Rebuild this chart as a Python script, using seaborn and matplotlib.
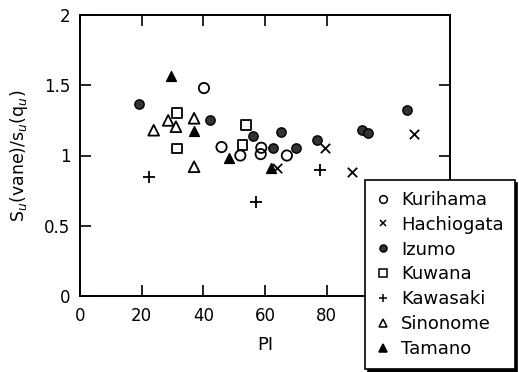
import matplotlib
matplotlib.use('Agg')
import matplotlib.pyplot as plt
from matplotlib.lines import Line2D
import seaborn as sns
import pandas as pd

# ---- data ----
kurihama_pi = [40.2, 45.9, 52.0, 58.8, 58.6, 67.1]
kurihama_r = [1.48, 1.06, 1.00, 1.055, 1.01, 1.00]
hachiogata_pi = [63.9, 79.4, 88.1, 108.4]
hachiogata_r = [0.91, 1.05, 0.885, 1.155]
izumo_pi = [19.1, 42.1, 56.1, 62.5, 65.2, 70.0, 77.0, 91.3, 93.5, 106.0]
izumo_r = [1.37, 1.25, 1.14, 1.055, 1.17, 1.055, 1.11, 1.185, 1.16, 1.325]
kuwana_pi = [31.5, 31.5, 53.8, 52.7]
kuwana_r = [1.305, 1.05, 1.22, 1.075]
kawasaki_pi = [22.3, 57.1, 77.7]
kawasaki_r = [0.845, 0.67, 0.895]
sinonome_pi = [23.9, 28.6, 31.1, 37.0, 37.0]
sinonome_r = [1.18, 1.25, 1.205, 1.265, 0.92]
tamano_pi = [29.4, 37.0, 48.4, 62.0]
tamano_r = [1.565, 1.175, 0.985, 0.91]

sites = ["Kurihama", "Hachiogata", "Izumo", "Kuwana", "Kawasaki", "Sinonome", "Tamano"]
x_ticks = [0, 20, 40, 60, 80]
y_ticks = [0, 0.5, 1, 1.5, 2]
y_tick_labels = ["0", "0.5", "1", "1.5", "2"]

series = {
    "Kurihama": (kurihama_pi, kurihama_r),
    "Hachiogata": (hachiogata_pi, hachiogata_r),
    "Izumo": (izumo_pi, izumo_r),
    "Kuwana": (kuwana_pi, kuwana_r),
    "Kawasaki": (kawasaki_pi, kawasaki_r),
    "Sinonome": (sinonome_pi, sinonome_r),
    "Tamano": (tamano_pi, tamano_r),
}

rows = []
for site in sites:
    pis, rs = series[site]
    for p, r in zip(pis, rs):
        rows.append({"site": site, "PI": p, "ratio": r})
df = pd.DataFrame(rows)

# ---- styles ----
styles = {
    "Kurihama": dict(marker="o", fc="none", ec="black", s=55, lw=1.3),
    "Hachiogata": dict(marker="x", fc="black", ec="black", s=45, lw=1.3),
    "Izumo": dict(marker="o", fc="#333333", ec="black", s=45, lw=1.0),
    "Kuwana": dict(marker="s", fc="none", ec="black", s=50, lw=1.3),
    "Kawasaki": dict(marker="+", fc="black", ec="black", s=70, lw=1.3),
    "Sinonome": dict(marker="^", fc="none", ec="black", s=60, lw=1.3),
    "Tamano": dict(marker="^", fc="black", ec="black", s=50, lw=1.0),
}

sns.set_theme(style="ticks")
plt.rcParams["font.family"] = ["DejaVu Sans"]
plt.rcParams["text.color"] = "black"
plt.rcParams["axes.labelcolor"] = "black"
plt.rcParams["xtick.color"] = "black"
plt.rcParams["ytick.color"] = "black"

fig = plt.figure(figsize=(5.19, 3.72), dpi=100)
ax = fig.add_axes([80 / 519, 1 - 296 / 372, 370 / 519, (296 - 15) / 372])

for site in sites:
    st = styles[site]
    sub = df[df["site"] == site]
    if st["marker"] in ("x", "+"):
        sns.scatterplot(data=sub, x="PI", y="ratio", marker=st["marker"], s=st["s"],
                        color="black", linewidth=st["lw"], ax=ax, legend=False, zorder=3)
    else:
        sns.scatterplot(data=sub, x="PI", y="ratio", marker=st["marker"], s=st["s"],
                        facecolor=st["fc"], edgecolor=st["ec"], linewidth=st["lw"],
                        ax=ax, legend=False, zorder=3)

ax.set_xlim(0, 120)
ax.set_ylim(0, 2)
ax.set_xticks(x_ticks)
ax.set_xticklabels([str(t) for t in x_ticks])
ax.set_yticks(y_ticks)
ax.set_yticklabels(y_tick_labels)
ax.tick_params(direction="in", length=8, width=1.2, top=True, right=True,
               labelsize=12, colors="black")
ax.tick_params(axis="x", pad=8)
ax.tick_params(axis="y", pad=7)
for sp in ax.spines.values():
    sp.set_visible(True)
    sp.set_linewidth(1.4)
    sp.set_color("black")

ax.set_xlabel("PI", fontsize=13, labelpad=8)
ax.set_ylabel(r"S$_u$(vane)/s$_u$(q$_u$)", fontsize=12.5, labelpad=10)

handles = []
for site in sites:
    st = styles[site]
    ms = (st["s"] ** 0.5) * 0.75
    if st["marker"] in ("x", "+"):
        h = Line2D([], [], linestyle="none", marker=st["marker"], color="black",
                   markersize=ms, markeredgewidth=1.1)
    else:
        h = Line2D([], [], linestyle="none", marker=st["marker"], markerfacecolor=st["fc"],
                   markeredgecolor=st["ec"], markersize=ms, markeredgewidth=1.1)
    handles.append(h)

leg = fig.legend(handles, sites, loc="upper left",
                 bbox_to_anchor=(365 / 519, 1 - 180 / 372),
                 fontsize=13, frameon=True, fancybox=False, framealpha=1,
                 edgecolor="black", borderaxespad=0, handlelength=0.8,
                 handletextpad=0.6, labelspacing=0.38, borderpad=0.6,
                 shadow={"color": "black", "alpha": 1})
leg.get_frame().set_linewidth(1.2)
for t in leg.get_texts():
    t.set_color("black")

fig.savefig("out.png", dpi=100)
